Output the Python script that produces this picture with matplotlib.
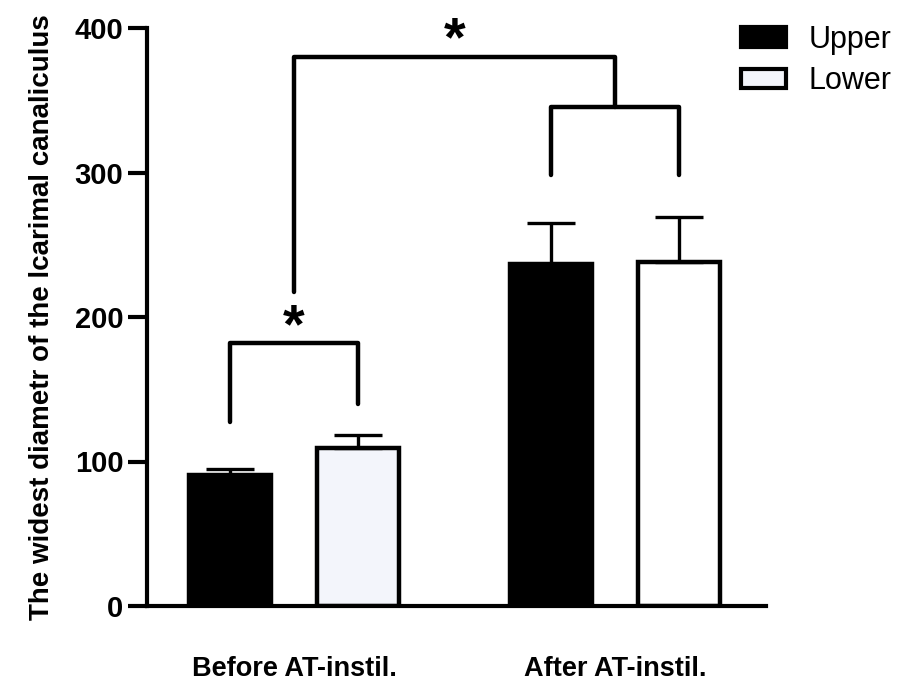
import matplotlib.pyplot as plt
from matplotlib.patches import Patch

plt.rcParams['font.family'] = ['Liberation Sans', 'DejaVu Sans']

# data
groups = ['Before AT-instil.', 'After AT-instil.']
upper = [91, 237]
upper_err = [4, 28]
lower = [109, 238]
lower_err = [9, 31]
yticks = [0, 100, 200, 300, 400]

fig = plt.figure(figsize=(8.98, 6.91), dpi=100)
ax = fig.add_axes([147 / 898, 1 - 606 / 691, (766 - 147) / 898, (606 - 28) / 691])

x = [0, 1]
off = 0.2
w = 0.255
lw = 3.2

ax.bar([i - off for i in x], upper, w, color='black', edgecolor='black', linewidth=lw,
       yerr=[[0, 0], upper_err], error_kw=dict(elinewidth=2.4, capsize=17, capthick=2.4, ecolor='black'),
       zorder=2)
ax.bar([i + off for i in x], lower, w, color=['#f3f5fb', 'white'], edgecolor='black', linewidth=lw,
       yerr=[[0, 0], lower_err], error_kw=dict(elinewidth=2.4, capsize=17, capthick=2.4, ecolor='black'),
       zorder=2)

# significance brackets
blw = 3.2
ax.plot([-off, -off, off, off], [127, 182, 182, 140], color='black', lw=blw, solid_capstyle='round')
ax.text(0, 192, '*', ha='center', va='center', fontsize=40, fontweight='bold')

ax.plot([1 - off, 1 - off, 1 + off, 1 + off], [298, 345, 345, 298], color='black', lw=blw, solid_capstyle='round')
ax.plot([0, 0, 1, 1], [217, 380, 380, 345], color='black', lw=blw, solid_capstyle='round')
ax.text(0.5, 391, '*', ha='center', va='center', fontsize=40, fontweight='bold')

ax.set_xlim(-0.458, 1.47)
ax.set_ylim(0, 400)
ax.set_yticks(yticks)
ax.set_xticks(x)
ax.set_xticklabels(groups, fontsize=19.5, fontweight='bold')
ax.tick_params(axis='x', length=0, pad=36)
ax.tick_params(axis='y', length=14, width=3, labelsize=21, pad=3)
for t in ax.get_yticklabels():
    t.set_fontweight('bold')
ax.set_ylabel('The widest diametr of the lcarimal canaliculus', fontsize=20, fontweight='bold', labelpad=14)

for s in ['top', 'right']:
    ax.spines[s].set_visible(False)
for s in ['left', 'bottom']:
    ax.spines[s].set_linewidth(3)

handles = [Patch(facecolor='black', edgecolor='black', linewidth=3, label='Upper'),
           Patch(facecolor='#f3f5fb', edgecolor='black', linewidth=3, label='Lower')]
fig.legend(handles=handles, loc='upper left', bbox_to_anchor=(0.795, 1.004), frameon=False,
           fontsize=22, handlelength=1.47, handleheight=0.62, handletextpad=0.72, labelspacing=0.38)

fig.savefig('out.png', dpi=100)
